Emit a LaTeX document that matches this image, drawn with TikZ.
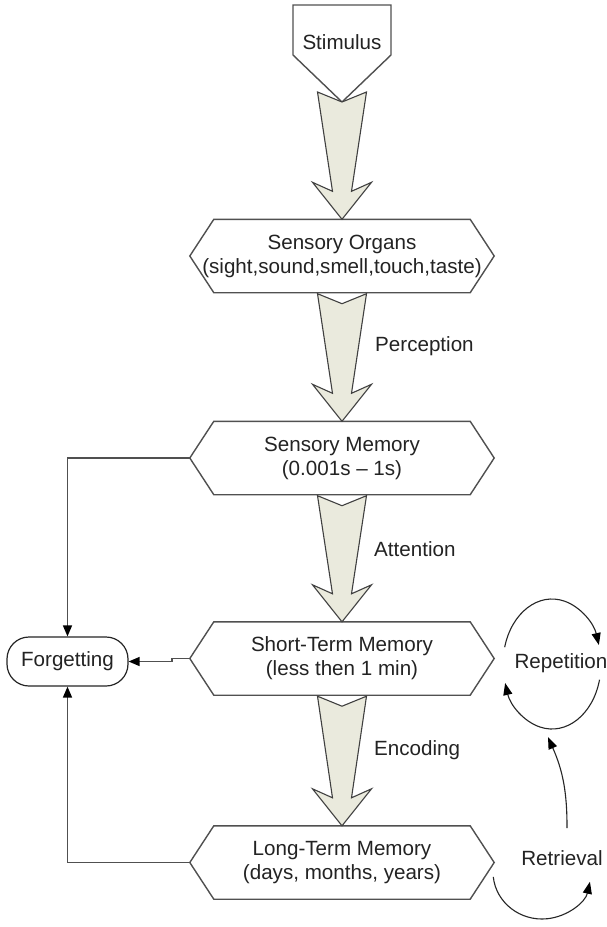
\documentclass[tikz,border=0pt]{standalone}
\usepackage{fontspec}
\setmainfont{Liberation Sans}
\usetikzlibrary{arrows.meta,calc}
\definecolor{arrowfill}{RGB}{234,234,221}
\definecolor{edgecol}{RGB}{80,80,80}
\definecolor{txt}{RGB}{35,35,35}
\newcommand\hexshape[1]{\draw[hexline] ([xshift=24pt]#1.north west) -- ([xshift=-24pt]#1.north east) -- (#1.east) -- ([xshift=-24pt]#1.south east) -- ([xshift=24pt]#1.south west) -- (#1.west) -- cycle;}
\newcommand\blockarrow[2]{\path[bigarrow] let \p1=(#1), \p2=(#2) in (\x1-24.5pt,\y1+10pt) -- (\x1,\y1) -- (\x1+24.5pt,\y1+10pt) -- (\x1+9.5pt,\y2+28pt) -- (\x1+29.5pt,\y2+37pt) -- (\x2,\y2) -- (\x1-29.5pt,\y2+37pt) -- (\x1-9.5pt,\y2+28pt) -- cycle;}
\begin{document}
\begin{tikzpicture}[x=1pt,y=-1pt,
  every node/.style={font=\fontsize{20.6}{24}\selectfont, text=txt},
  hexbox/.style={minimum width=304pt, minimum height=73pt, inner sep=0pt, align=center},
  hexline/.style={draw=edgecol, line width=1.4pt},
  bigarrow/.style={fill=arrowfill, draw=black!75, line width=1.1pt, line join=miter},
  conn/.style={draw=edgecol, line width=1.4pt, -{Triangle[length=11pt,width=9pt,color=black]}},
  cyc/.style={draw=black!85, line width=1.1pt, -{Triangle[length=12pt,width=9pt,color=black]}},
  lbl/.style={anchor=west, inner sep=0pt}]
\useasboundingbox[fill=white] (0,0) rectangle (607,927);

% Stimulus
\node[inner sep=0pt, anchor=base] (stim) at (342,49) {Stimulus};
\coordinate (stimtip) at (342,102);
\draw[hexline] (293,5) -- (391,5) -- (391,55) -- (stimtip) -- (293,55) -- cycle;

% memory stages
\node[hexbox] (so) at (342,256) {Sensory Organs\\(sight,sound,smell,touch,taste)};
\node[hexbox] (sm) at (342,458) {Sensory Memory\\(0.001s – 1s)};
\node[hexbox] (st) at (342,658.5) {Short-Term Memory\\(less then 1 min)};
\node[hexbox] (lt) at (342,862.5) {Long-Term Memory\\(days, months, years)};
\hexshape{so}
\hexshape{sm}
\hexshape{st}
\hexshape{lt}

% block arrows
\blockarrow{stimtip}{so.north}
\blockarrow{[yshift=-11pt]so.south}{sm.north}
\blockarrow{[yshift=-11pt]sm.south}{st.north}
\blockarrow{[yshift=-11pt]st.south}{lt.north}

% labels
\node[lbl] (perc) at (375,346) {Perception};
\node[lbl] (att) at (374,549) {Attention};
\node[lbl] (enc) at (374,750) {Encoding};

% forgetting
\node[draw=black!85, line width=1.2pt, rounded corners=22pt, minimum width=121pt, minimum height=49pt, inner sep=0pt] (fg) at (67.5,661.5) {Forgetting};
\draw[conn] (sm.west) -| (fg.north);
\draw[conn] (lt.west) -| (fg.south);
\draw[conn] (st.west) -- ++(-18,0) |- (fg.east);

% repetition
\node[inner sep=0pt] (rep) at (561,663) {Repetition};
\coordinate (rc) at (552,664);
\draw[cyc] (rc) ++(165:49pt and 65pt) arc[start angle=165, end angle=17, x radius=49pt, y radius=65pt];
\draw[cyc] (rc) ++(-14:49pt and 65pt) arc[start angle=-14, end angle=-163, x radius=49pt, y radius=65pt];

% retrieval
\node[inner sep=0pt] (ret) at (562,858) {Retrieval};
\coordinate (rettop) at (567,828);
\coordinate (repbot) at (548,737);
\draw[cyc] (rettop) to[bend right=12] (repbot);
\coordinate (lc) at (542,872);
\draw[cyc] (lc) ++(186:49pt and 47pt) arc[start angle=186, end angle=348, x radius=49pt, y radius=47pt];
\end{tikzpicture}
\end{document}
